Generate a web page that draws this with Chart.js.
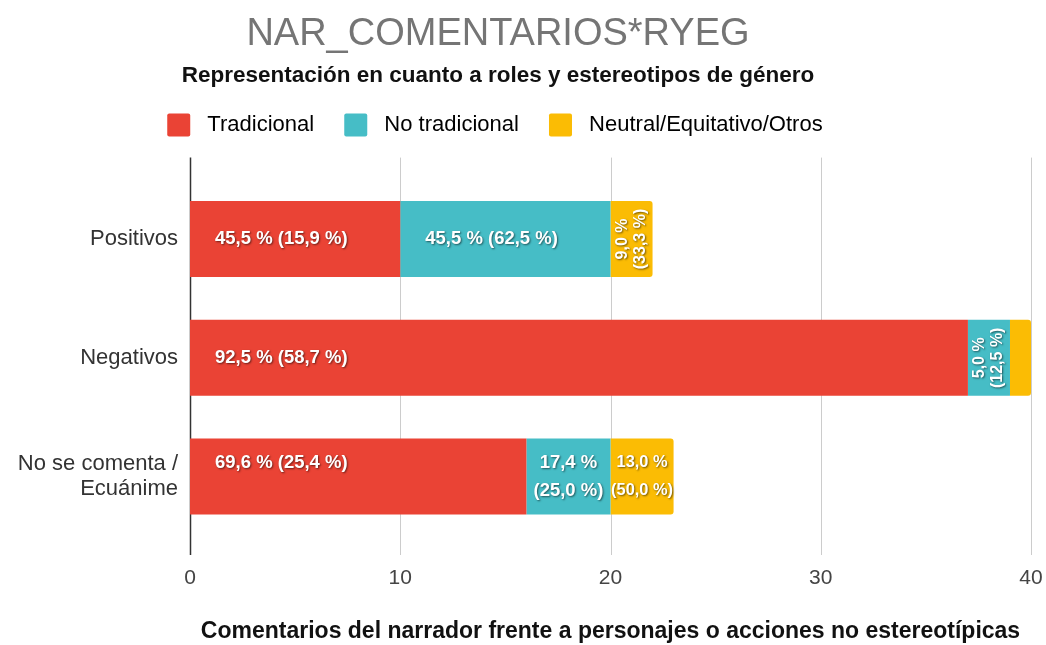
<!DOCTYPE html>
<html>
<head>
<meta charset="utf-8">
<script src="https://cdn.jsdelivr.net/npm/chart.js@4.4.0/dist/chart.umd.min.js"></script>
<style>
    html, body { margin: 0; padding: 0; background: #ffffff; }
    #wrap { width: 1046px; height: 645px; }
</style>
</head>
<body>
<div id="wrap"><canvas id="narChart"></canvas></div>
<script>
// categories and series
const categories = [["Positivos"], ["Negativos"], ["No se comenta /", "Ecuánime"]];
const seriesNames = ["Tradicional", "No tradicional", "Neutral/Equitativo/Otros"];
const seriesColors = ["#ea4335", "#46bdc6", "#fbbc04"];

// counts per category
const tradicional = [10, 37, 16];
const noTradicional = [10, 2, 4];
const neutral = [2, 1, 3];

// % within the category and (% within the series)
const tradicionalPct = [45.5, 92.5, 69.6];
const tradicionalShare = [15.9, 58.7, 25.4];
const noTradicionalPct = [45.5, 5.0, 17.4];
const noTradicionalShare = [62.5, 12.5, 25.0];
const neutralPct = [9.0, 2.5, 13.0];
const neutralShare = [33.3, 16.7, 50.0];

const xTicks = [0, 10, 20, 30, 40];

const seriesValues = [tradicional, noTradicional, neutral];
const seriesPct = [tradicionalPct, noTradicionalPct, neutralPct];
const seriesShare = [tradicionalShare, noTradicionalShare, neutralShare];

const FONT = "'Liberation Sans', Arial, sans-serif";
const LABEL_SIZE = 18.5;
const fmt = v => v.toFixed(1).replace(".", ",") + " %";

// vertical grid + zero line, a bit taller than the plot area
const gridPlugin = {
    id: "gridLines",
    beforeDatasetsDraw(chart) {
        const { ctx, chartArea, scales } = chart;
        const top = chartArea.top - 22;
        const bottom = chartArea.bottom + 19;
        ctx.save();
        xTicks.forEach(t => {
            const x = Math.round(scales.x.getPixelForValue(t)) + 0.5;
            ctx.strokeStyle = t === 0 ? "#333333" : "#cccccc";
            ctx.lineWidth = t === 0 ? 1.5 : 1;
            ctx.beginPath();
            ctx.moveTo(x, top);
            ctx.lineTo(x, bottom);
            ctx.stroke();
        });
        ctx.restore();
    }
};

// white labels inside the segments
const labelPlugin = {
    id: "segmentLabels",
    afterDatasetsDraw(chart) {
        const { ctx } = chart;
        ctx.save();
        ctx.fillStyle = "#ffffff";
        ctx.shadowColor = "rgba(0,0,0,0.55)";
        ctx.shadowOffsetX = 1;
        ctx.shadowOffsetY = 1;
        ctx.shadowBlur = 2;
        ctx.textBaseline = "middle";

        categories.forEach((cat, i) => {
            // decide layout of every label in the row first
            const plans = seriesNames.map((name, d) => {
                const bar = chart.getDatasetMeta(d).data[i];
                const left = Math.min(bar.base, bar.x);
                const right = Math.max(bar.base, bar.x);
                const segW = right - left;
                const a = fmt(seriesPct[d][i]);
                const b = "(" + fmt(seriesShare[d][i]) + ")";
                ctx.font = "bold " + LABEL_SIZE + "px " + FONT;
                const single = a + " " + b;
                if (ctx.measureText(single).width + 48 <= segW) {
                    return { mode: "single", left, segW, bar, lines: [single], size: LABEL_SIZE };
                }
                const maxW = Math.max(ctx.measureText(a).width, ctx.measureText(b).width);
                const size = Math.min(LABEL_SIZE, LABEL_SIZE * (segW - 1) / maxW);
                if (size >= 14) {
                    return { mode: "double", left, segW, bar, lines: [a, b], size };
                }
                if (segW >= 36) {
                    return { mode: "rotated", left, segW, bar, lines: [a, b], size: 16 };
                }
                return null;
            });
            const wrapped = plans.some(p => p && p.mode === "double");

            plans.forEach(p => {
                if (!p) return;
                const cy = p.bar.y;
                ctx.font = "bold " + p.size.toFixed(1) + "px " + FONT;
                if (p.mode === "single") {
                    ctx.textAlign = "left";
                    ctx.fillText(p.lines[0], p.left + 25, wrapped ? cy - 14 : cy);
                } else if (p.mode === "double") {
                    ctx.textAlign = "center";
                    const cx = p.left + p.segW / 2;
                    ctx.fillText(p.lines[0], cx, cy - 14);
                    ctx.fillText(p.lines[1], cx, cy + 14);
                } else {
                    ctx.save();
                    ctx.translate(p.left + p.segW / 2, cy);
                    ctx.rotate(-Math.PI / 2);
                    ctx.textAlign = "center";
                    ctx.fillText(p.lines[0], 0, -9);
                    ctx.fillText(p.lines[1], 0, 9);
                    ctx.restore();
                }
            });
        });
        ctx.restore();
    }
};

new Chart(document.getElementById("narChart"), {
    type: "bar",
    data: {
        labels: categories,
        datasets: seriesNames.map((name, d) => ({
            label: name,
            data: seriesValues[d],
            backgroundColor: seriesColors[d],
            borderWidth: 0,
            borderRadius: d === 2 ? 3 : 0,
            borderSkipped: "start",
            barPercentage: 0.64,
            categoryPercentage: 1
        }))
    },
    options: {
        indexAxis: "y",
        responsive: true,
        maintainAspectRatio: false,
        animation: false,
        layout: { padding: { top: 0, right: 15, bottom: 0, left: -35 } },
        plugins: {
            title: {
                display: true,
                text: "NAR_COMENTARIOS*RYEG",
                color: "#757575",
                font: { family: FONT, size: 38, weight: "normal", lineHeight: 1.2 },
                padding: { top: 12, bottom: 3 }
            },
            subtitle: {
                display: true,
                text: "Representación en cuanto a roles y estereotipos de género",
                color: "#111111",
                font: { family: FONT, size: 22.5, weight: "bold", lineHeight: 1.2 },
                padding: { top: 2, bottom: 0 }
            },
            legend: {
                display: true,
                position: "top",
                labels: {
                    color: "#222222",
                    font: { family: FONT, size: 22 },
                    boxWidth: 23,
                    boxHeight: 23,
                    padding: 24,
                    generateLabels(chart) {
                        return chart.data.datasets.map((ds, i) => ({
                            text: " " + ds.label + " ",
                            fillStyle: ds.backgroundColor,
                            strokeStyle: ds.backgroundColor,
                            lineWidth: 0,
                            borderRadius: 2,
                            datasetIndex: i
                        }));
                    }
                }
            },
            tooltip: { enabled: false }
        },
        scales: {
            x: {
                type: "linear",
                stacked: true,
                min: 0,
                max: 40,
                afterBuildTicks(scale) {
                    scale.ticks = xTicks.map(v => ({ value: v }));
                },
                grid: { display: false, drawTicks: false },
                border: { display: false },
                ticks: {
                    color: "#444444",
                    font: { family: FONT, size: 21 },
                    padding: 30
                },
                title: {
                    display: true,
                    text: "Comentarios del narrador frente a personajes o acciones no estereotípicas",
                    color: "#111111",
                    font: { family: FONT, size: 23, weight: "bold", lineHeight: 1.2 },
                    padding: { top: 0, bottom: 0 }
                },
                afterFit(scale) {
                    scale.height = 109;
                    scale.paddingLeft = 0;
                    scale.paddingRight = 0;
                }
            },
            gap: {
                type: "linear",
                position: "top",
                display: true,
                grid: { display: false, drawTicks: false },
                border: { display: false },
                ticks: { display: false },
                afterFit(scale) {
                    scale.height = 33;
                    scale.paddingLeft = 0;
                    scale.paddingRight = 0;
                }
            },
            y: {
                type: "category",
                stacked: true,
                grid: { display: false, drawTicks: false },
                border: { display: false },
                ticks: {
                    color: "#333333",
                    font: { family: FONT, size: 22, lineHeight: 1.15 },
                    padding: 12
                },
                afterFit(scale) { scale.width = 225; }
            }
        }
    },
    plugins: [gridPlugin, labelPlugin]
});
</script>
</body>
</html>
